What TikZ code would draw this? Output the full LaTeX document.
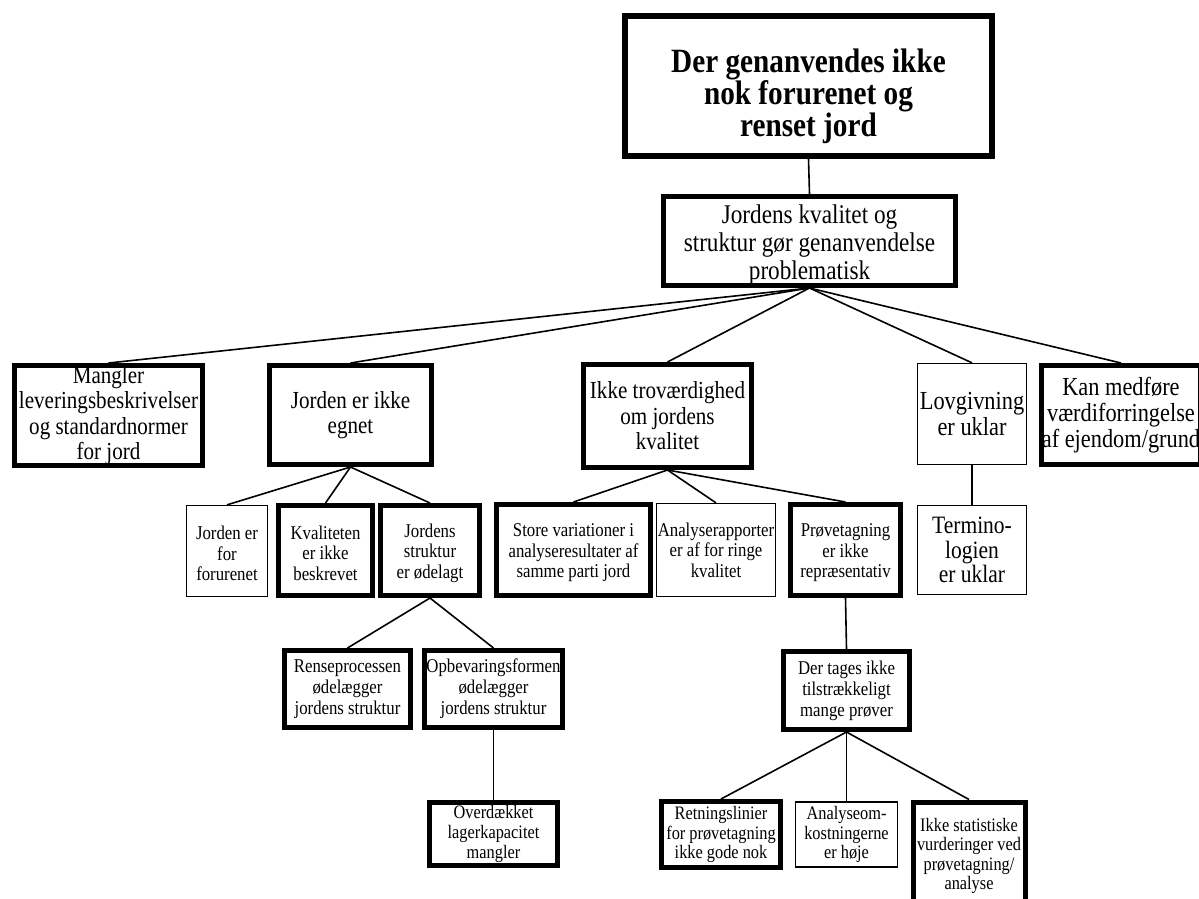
\documentclass[tikz,border=0pt]{standalone}
\usepackage{fontspec}
\setmainfont[FakeStretch=0.86]{Liberation Serif}
\begin{document}
\begin{tikzpicture}[x=1pt,y=-1pt,
  base/.style={draw=black, rectangle, inner sep=0pt, align=center, fill=white},
  heavy/.style={base, line width=5pt},
  light/.style={base, line width=1.3pt},
  toptitle/.style={base, line width=6pt, font=\fontsize{34}{31}\selectfont\bfseries},
  fsecond/.style={font=\fontsize{27}{28}\selectfont},
  fmain/.style={font=\fontsize{24.5}{25.5}\selectfont},
  fside/.style={font=\fontsize{26}{26}\selectfont},
  fsmall/.style={font=\fontsize{19.5}{20.5}\selectfont},
  fsub/.style={font=\fontsize{19.5}{21}\selectfont},
  fleaf/.style={font=\fontsize{19}{19.5}\selectfont},
  link/.style={line width=1.6pt}]
\useasboundingbox (0,0) rectangle (1199,898);

% root and second level (the struts set the text a little below centre)
\node[toptitle, minimum width=367pt, minimum height=140pt] (root) at (808.5,86)
  {\rule{0pt}{44pt}Der genanvendes ikke\\nok forurenet og\\renset jord};
\node[heavy, fsecond, minimum width=292pt, minimum height=89pt] (cause) at (809.5,241)
  {\rule{0pt}{27pt}Jordens kvalitet og\\struktur gør genanvendelse\\problematisk};

% third level
\node[heavy, fmain, minimum width=188pt, minimum height=100pt] (mangler) at (108.5,415.5)
  {Mangler\\leveringsbeskrivelser\\og standardnormer\\for jord};
\node[heavy, fmain, minimum width=162pt, minimum height=99pt] (egnet) at (350.5,415)
  {Jorden er ikke\\egnet};
\node[heavy, fmain, minimum width=168pt, minimum height=103pt] (trov) at (667.5,416)
  {Ikke troværdighed\\om jordens\\kvalitet};
\node[light, fside, minimum width=109pt, minimum height=101pt] (lov) at (972,414)
  {Lovgivning\\er uklar};
\node[heavy, fside, minimum width=149pt, minimum height=99pt] (vaerdi) at (1121,415)
  {Kan medføre\\værdiforringelse\\af ejendom/grund};

% fourth level
\node[light, fsmall, minimum width=81pt, minimum height=91pt] (forurenet) at (227,551)
  {\rule{0pt}{19pt}Jorden er\\for\\forurenet};
\node[heavy, fsmall, minimum width=94pt, minimum height=90pt] (kval) at (325.5,550.5)
  {\rule{0pt}{19pt}Kvaliteten\\er ikke\\beskrevet};
\node[heavy, fsmall, minimum width=99pt, minimum height=90pt] (struktur) at (430,550.5)
  {\rule{0pt}{19pt}Jordens\\struktur\\er ødelagt};
\node[heavy, fsmall, minimum width=154pt, minimum height=91pt] (variation) at (573.5,550)
  {\rule{0pt}{19pt}Store variationer i\\analyseresultater af\\samme parti jord};
\node[light, fsmall, minimum width=119pt, minimum height=93pt] (rapport) at (716,550)
  {Analyserapporter\\er af for ringe\\kvalitet};
\node[heavy, fsmall, minimum width=110pt, minimum height=91pt] (proeve) at (845.5,550)
  {\rule{0pt}{19pt}Prøvetagning\\er ikke\\repræsentativ};
\node[light, font=\fontsize{25}{24.5}\selectfont, minimum width=109pt, minimum height=89pt] (termino) at (972,550)
  {Termino-\\logien\\er uklar};

% fifth level
\node[heavy, fsub, minimum width=126pt, minimum height=77pt] (rense) at (347.5,689)
  {Renseprocessen\\ødelægger\\jordens struktur};
\node[heavy, fsub, minimum width=138pt, minimum height=77pt] (opbev) at (493.5,689)
  {Opbevaringsformen\\ødelægger\\jordens struktur};
\node[heavy, fsub, minimum width=126pt, minimum height=78pt] (mange) at (846.5,690.5)
  {Der tages ikke\\tilstrækkeligt\\mange prøver};

% sixth level
\node[heavy, font=\fontsize{19}{20}\selectfont, minimum width=128pt, minimum height=63pt] (lager) at (493.5,834)
  {Overdækket\\lagerkapacitet\\mangler};
\node[heavy, fleaf, minimum width=119pt, minimum height=66pt] (retning) at (721,834.5)
  {Retningslinier\\for prøvetagning\\ikke gode nok};
\node[light, fleaf, minimum width=102pt, minimum height=65pt] (omk) at (846.5,834.5)
  {Analyseom-\\kostningerne\\er høje};
\node[heavy, fleaf, minimum width=112pt, minimum height=108pt] (statist) at (969,856)
  {Ikke statistiske\\vurderinger ved\\prøvetagning/\\analyse};

% connectors
\draw[link] (root.south) -- (cause.north);
\foreach \c in {mangler,egnet,trov,lov,vaerdi}
  \draw[link] (cause.south) -- (\c.north);
\foreach \c in {forurenet,kval,struktur}
  \draw[link] (egnet.south) -- (\c.north);
\foreach \c in {variation,rapport,proeve}
  \draw[link] (trov.south) -- (\c.north);
\draw[link] (lov.south) -- (termino.north);
\foreach \c in {rense,opbev}
  \draw[link] (struktur.south) -- (\c.north);
\draw[link] (opbev.south) -- (lager.north);
\draw[link] (proeve.south) -- (mange.north);
\foreach \c in {retning,omk,statist}
  \draw[link] (mange.south) -- (\c.north);
\end{tikzpicture}
\end{document}
